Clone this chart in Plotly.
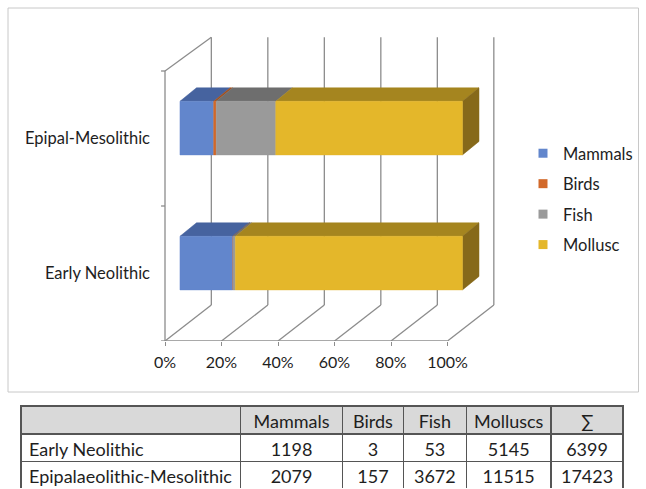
import plotly.graph_objects as go

# Counts per period (table rows) and taxa
periods = ["Early Neolithic", "Epipalaeolithic-Mesolithic"]
period_labels = ["Early Neolithic", "Epipal-Mesolithic"]
taxa = ["Mammals", "Birds", "Fish", "Molluscs"]
legend_names = ["Mammals", "Birds", "Fish", "Mollusc"]
mammals = [1198, 2079]
birds = [3, 157]
fish = [53, 3672]
molluscs = [5145, 11515]
totals = [6399, 17423]
pct_ticks = [0, 20, 40, 60, 80, 100]

front_colors = ["#6286CC", "#D2692A", "#9A9A9A", "#E4B72A"]
top_colors = ["#46639F", "#A0501F", "#6E6E6E", "#A5851F"]
side_color = "#86691A"
frame_color = "#8C8C8C"
text_color = "#1E1E1E"
font_family = "Lato, 'Open Sans', sans-serif"

# pseudo-3D projection offsets (data units: % on x, category bands on y)
WALL_DX, WALL_DY_BOTTOM, WALL_DY_TOP = 16.4, 0.266, 0.25
BAR_FX, BAR_FY, BAR_HALF = 5.3, 0.077, 0.1985
BAR_DX, BAR_DY = 5.85, 0.1

series = [mammals, birds, fish, molluscs]
fig = go.Figure()

# ---- chart frame: left wall, floor, back-wall gridlines ----
fx, fy = [], []
fx += [0, 0, None, 0, 100, None, 0, WALL_DX, None]
fy += [0, 2, None, 0, 0, None, 2, 2 + WALL_DY_TOP, None]
for t in pct_ticks:
    fx += [t + WALL_DX, t + WALL_DX, None, t, t + WALL_DX, None]
    fy += [WALL_DY_BOTTOM, 2 + WALL_DY_TOP, None, 0, WALL_DY_BOTTOM, None]
for k in range(3):
    fx += [-1.4, 0, None]
    fy += [k, k, None]
fig.add_trace(go.Scatter(x=fx, y=fy, mode="lines", showlegend=False,
                         line=dict(color=frame_color, width=1.3),
                         hoverinfo="skip"))

# ---- stacked 100% bars as prisms ----
tops = [([], []) for _ in series]
fronts = [([], []) for _ in series]
sides = ([], [])
for i in range(len(periods)):
    c = i + 0.5 + BAR_FY
    y0, y1 = c - BAR_HALF, c + BAR_HALF
    start = 0.0
    for j, s in enumerate(series):
        end = start + 100.0 * s[i] / totals[i]
        a, b = start + BAR_FX, end + BAR_FX
        fronts[j][0].extend([a, b, b, a, a, None])
        fronts[j][1].extend([y0, y0, y1, y1, y0, None])
        tops[j][0].extend([a, b, b + BAR_DX, a + BAR_DX, a, None])
        tops[j][1].extend([y1, y1, y1 + BAR_DY, y1 + BAR_DY, y1, None])
        if j == len(series) - 1:
            sides[0].extend([b, b + BAR_DX, b + BAR_DX, b, b, None])
            sides[1].extend([y0, y0 + BAR_DY, y1 + BAR_DY, y1, y0, None])
        start = end

for j in range(len(series)):
    fig.add_trace(go.Scatter(x=tops[j][0], y=tops[j][1], mode="lines",
                             fill="toself", fillcolor=top_colors[j],
                             line=dict(color=top_colors[j], width=0.5),
                             showlegend=False, hoverinfo="skip"))
fig.add_trace(go.Scatter(x=sides[0], y=sides[1], mode="lines", fill="toself",
                         fillcolor=side_color,
                         line=dict(color=side_color, width=0.5),
                         showlegend=False, hoverinfo="skip"))
for j in range(len(series)):
    fig.add_trace(go.Scatter(x=fronts[j][0], y=fronts[j][1], mode="lines",
                             fill="toself", fillcolor=front_colors[j],
                             line=dict(color=front_colors[j], width=0.5),
                             showlegend=False, hoverinfo="skip"))

# legend keys
for j, name in enumerate(legend_names):
    fig.add_trace(go.Scatter(x=[None], y=[None], mode="markers", name=name,
                             legendgroup=name,
                             marker=dict(symbol="square", size=9,
                                         color=front_colors[j])))

# ---- data table ----
fig.add_trace(go.Table(
    domain=dict(x=[21 / 646, 623.5 / 646], y=[0, 1 - 406 / 489]),
    columnwidth=[220, 102, 61, 63, 85, 72],
    header=dict(values=[""] + taxa + ["∑"],
                fill_color="#D9D9D9", line=dict(color="#555555", width=1.5),
                align=["left", "center"], height=28,
                font=dict(family=font_family, size=18, color=text_color)),
    cells=dict(values=[periods, mammals, birds, fish, molluscs, totals],
               fill_color="white", line=dict(color="#555555", width=1.5),
               align=["left", "center"], height=27.5,
               font=dict(family=font_family, size=18, color=text_color)),
))

L, R, T, B = 153, 520, 30, 341
PX_PER_PCT, PX_PER_BAND = 2.825, 135.0
fig.update_layout(
    width=646, height=489,
    margin=dict(l=0, r=0, t=0, b=0),
    paper_bgcolor="white", plot_bgcolor="white",
    font=dict(family=font_family, size=16, color=text_color),
    xaxis=dict(domain=[L / 646, R / 646],
               range=[(L - 165) / PX_PER_PCT, (R - 165) / PX_PER_PCT],
               tickvals=pct_ticks, ticktext=[f"{t}%" for t in pct_ticks],
               showgrid=False, zeroline=False, showline=False,
               ticks="outside", ticklen=4, tickcolor=frame_color,
               ticklabelstandoff=3, tickfont=dict(size=16), fixedrange=True),
    yaxis=dict(domain=[1 - B / 489, 1 - T / 489],
               range=[0, (B - T) / PX_PER_BAND],
               tickvals=[0.5, 1.5], ticktext=period_labels,
               showgrid=False, zeroline=False, showline=False,
               ticks="", ticklabelstandoff=2, tickfont=dict(size=16.5),
               fixedrange=True),
    legend=dict(x=523 / 646, y=1 - 136 / 489, xanchor="left", yanchor="top",
                font=dict(size=16.5), tracegroupgap=6,
                bgcolor="rgba(0,0,0,0)"),
    shapes=[dict(type="rect", xref="paper", yref="paper",
                 x0=8 / 646, x1=638.5 / 646, y0=1 - 392 / 489, y1=1 - 8 / 489,
                 line=dict(color="#C8C8C8", width=1), fillcolor="rgba(0,0,0,0)")],
)

fig.write_html("out.html")
